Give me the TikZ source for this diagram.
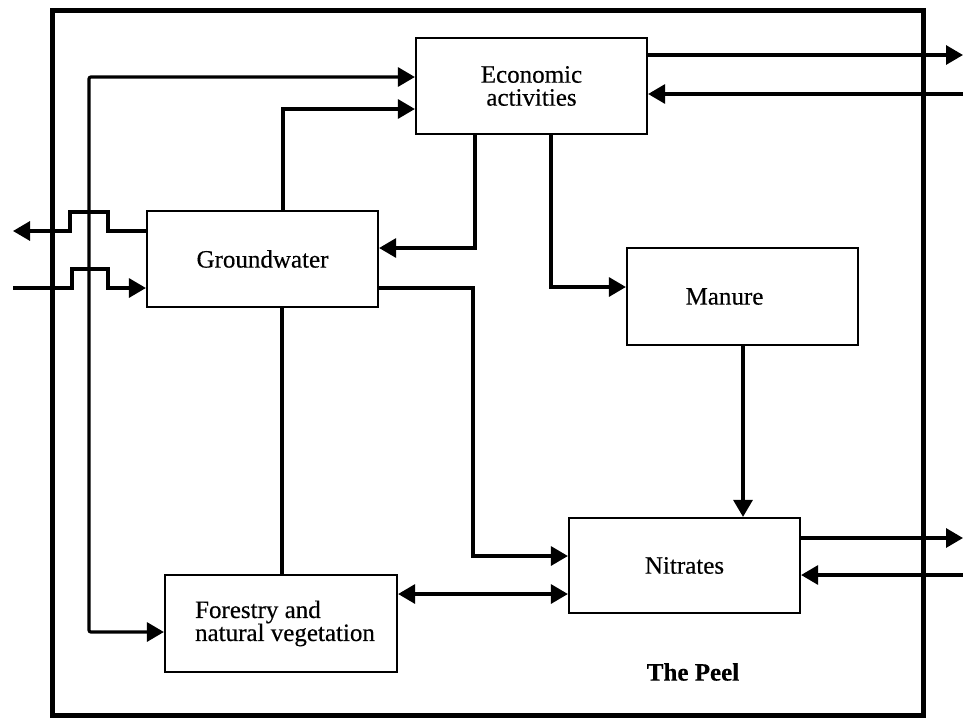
\documentclass[tikz,border=0pt]{standalone}
\usepackage{fontspec}
\setmainfont{Liberation Serif}[FakeBold=0.4]
\usetikzlibrary{arrows.meta}
\tikzset{
  box/.style={draw, line width=2.2pt, minimum width=231pt, minimum height=96pt,
    inner sep=0pt, font=\fontsize{25}{23}\selectfont, align=center},
  tipa/.tip={Triangle[length=17pt,width=19pt]},
  conn/.style={line width=3.2pt, -tipa},
  conn2/.style={line width=3.2pt, tipa-tipa},
  plain/.style={line width=3.2pt},
  framebox/.style={draw, line width=5pt, minimum width=871pt, minimum height=705pt, inner sep=0pt},
}
\begin{document}
\begin{tikzpicture}[x=1pt, y=-1pt]
\useasboundingbox (0,0) rectangle (963,718);
\node[framebox] (peel) at (487.5,362.5) {};
\node[box] (econ) at (531.5,86) {Economic\\activities};
\node[box] (gw) at (262.5,259) {Groundwater};
\node[box, minimum height=97pt] (manure) at (742.5,296.5) {Manure\hspace*{36pt}};
\node[box, minimum height=95pt] (nitr) at (684.5,565.5) {Nitrates};
\node[box, minimum width=232pt, minimum height=97pt, align=left] (forest) at (281,623.5) {Forestry and\\natural vegetation\hspace*{-8pt}};
\node[font=\fontsize{25}{25}\selectfont\bfseries] (label) at (693,672) {The Peel};
% free ends
\coordinate (oL1) at (13,231);
\coordinate (oL2) at (13,288);
\coordinate (oR1) at (963,55);
\coordinate (oR2) at (963,94);
\coordinate (oR3) at (963,538);
\coordinate (oR4) at (963,575);
% connectors
\draw[conn2, rounded corners=2pt] (econ.west |- 0,77) -- (89,77) -- (89,632) -- (forest.west |- 0,632);
\draw[conn] (gw.north -| 283,0) -- (283,109) -- (econ.west |- 0,109);
\draw[conn] (econ.south -| 475,0) -- (475,248) -- (gw.east |- 0,248);
\draw[conn] (gw.east |- 0,288) -- (473,288) -- (473,556) -- (nitr.west |- 0,556);
\draw[conn] (econ.south -| 551,0) -- (551,287) -- (manure.west |- 0,287);
\draw[conn] (manure.south -| 743,0) -- (nitr.north -| 743,0);
\draw[plain] (gw.south -| 282,0) -- (forest.north -| 282,0);
\draw[conn2] (forest.east |- 0,594) -- (nitr.west |- 0,594);
\draw[conn] (econ.east |- 0,55) -- (oR1);
\draw[conn] (oR2) -- (econ.east |- 0,94);
\draw[conn] (nitr.east |- 0,538) -- (oR3);
\draw[conn] (oR4) -- (nitr.east |- 0,575);
\draw[conn] (gw.west |- 0,231) -- (108,231) -- (108,212) -- (70,212) -- (70,231) -- (oL1);
\draw[conn] (oL2) -- (72,288) -- (72,269) -- (108,269) -- (108,288) -- (gw.west |- 0,288);
\end{tikzpicture}
\end{document}
